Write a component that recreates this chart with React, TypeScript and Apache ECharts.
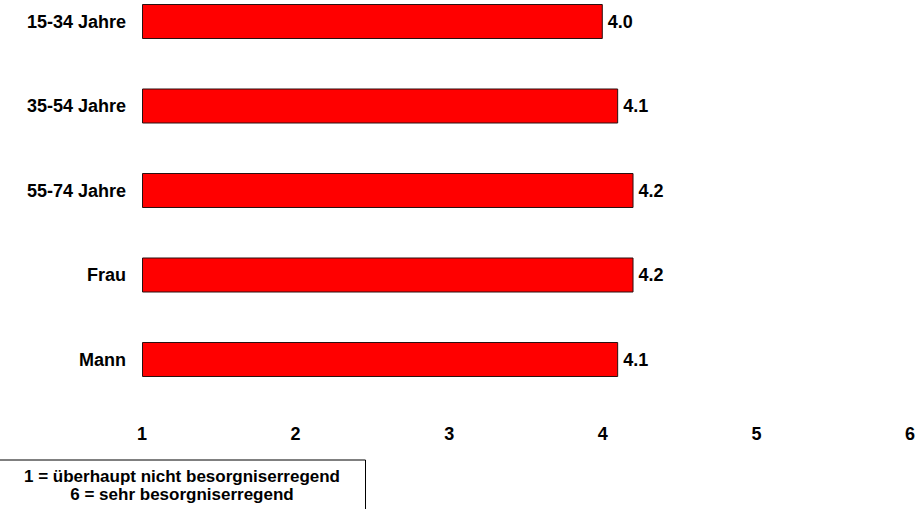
import React, { useEffect, useRef } from "react";
import * as echarts from "echarts";

const categories = ["15-34 Jahre", "35-54 Jahre", "55-74 Jahre", "Frau", "Mann"];
const values = [4.0, 4.1, 4.2, 4.2, 4.1];
const axisMin = 1;
const axisMax = 6;
const legendLines = ["1 = überhaupt nicht besorgniserregend", "6 = sehr besorgniserregend"];

const SHIFT = 21;

export default function App() {
  const ref = useRef<HTMLDivElement>(null);
  useEffect(() => {
    document.body.style.margin = "0";
    document.body.style.overflow = "hidden";
    const chart = echarts.init(ref.current!, null, { renderer: "svg" });
    const font = "'Liberation Sans', Arial, Helvetica, sans-serif";
    chart.setOption({
      animation: false,
      backgroundColor: "#ffffff",
      grid: { left: 142, right: 4.5, top: 0.25, bottom: 107.25, containLabel: false },
      xAxis: {
        type: "value",
        min: axisMin,
        max: axisMax,
        interval: 1,
        startValue: axisMin,
        axisLine: { show: false },
        axisTick: { show: false },
        splitLine: { show: false },
        axisLabel: { color: "#000", fontWeight: "bold", fontSize: 18, fontFamily: font, margin: 23 },
      },
      yAxis: {
        type: "category",
        data: categories,
        inverse: true,
        axisLine: { show: false },
        axisTick: { show: false },
        axisLabel: { color: "#000", fontWeight: "bold", fontSize: 18, fontFamily: font, margin: 16 },
      },
      series: [
        {
          type: "bar",
          data: values,
          barWidth: 35,
          itemStyle: { color: "#ff0000", borderColor: "#2a1010", borderWidth: 1 },
          label: {
            show: true,
            position: "right",
            distance: 5,
            color: "#000",
            fontWeight: "bold",
            fontSize: 18,
            fontFamily: font,
            formatter: (p: any) => Number(p.value).toFixed(1),
          },
        },
      ],
      graphic: [
        {
          type: "rect",
          shape: { x: -1, y: 460 + SHIFT, width: 366.5, height: 60 },
          style: { fill: "#fff", stroke: "#000", lineWidth: 1 },
        },
        {
          type: "text",
          x: 182,
          y: 476 + SHIFT,
          style: {
            text: legendLines[0],
            fontSize: 17,
            fontWeight: "bold",
            fontFamily: font,
            fill: "#000",
            align: "center",
            verticalAlign: "middle",
          },
        },
        {
          type: "text",
          x: 182,
          y: 494 + SHIFT,
          style: {
            text: legendLines[1],
            fontSize: 17,
            fontWeight: "bold",
            fontFamily: font,
            fill: "#000",
            align: "center",
            verticalAlign: "middle",
          },
        },
      ],
    });
    return () => chart.dispose();
  }, []);
  return <div ref={ref} style={{ width: 918, height: 509 + SHIFT, marginTop: -SHIFT }} />;
}
